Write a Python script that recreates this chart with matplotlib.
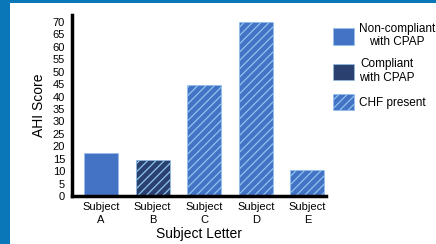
import numpy as np
import matplotlib
matplotlib.use('Agg')
import matplotlib.pyplot as plt
from matplotlib.patches import Patch, Rectangle

# data
subjects = ['A', 'B', 'C', 'D', 'E']
ahi = [17.3, 14.3, 44.5, 69.8, 10.5]
compliant = [False, True, False, False, False]
chf = [False, True, True, True, True]
yticks = list(range(0, 75, 5))

blauw = '#4472c4'
donker = '#2a4170'
streep = '#8ec3ef'
rand = '#0a77b8'

plt.rcParams['font.family'] = ['Liberation Sans', 'DejaVu Sans']
plt.rcParams['hatch.linewidth'] = 0.9

fig = plt.figure(figsize=(4.36, 2.44), dpi=100)
fig.patch.set_facecolor(rand)
fig.patches.append(Rectangle((10 / 436, 0), 1, 1 - 3 / 244, transform=fig.transFigure,
                             facecolor='white', edgecolor='none', zorder=-5))

ax = fig.add_axes([72 / 436, 1 - 196 / 244, 254 / 436, 181 / 244])
ax.set_facecolor('none')

x_pos = np.arange(len(subjects))
for i in range(len(subjects)):
    kleur = donker if compliant[i] else blauw
    ax.bar(x_pos[i], ahi[i], 0.66, color=kleur, edgecolor=streep, linewidth=0.4,
           hatch='////' if chf[i] else None, zorder=2)

ax.set_xlim(-0.56, 4.36)
ax.set_ylim(0, 72.8)
ax.set_yticks(yticks)
ax.set_yticklabels([str(t) for t in yticks])
ax.set_xticks(x_pos)
ax.set_xticklabels(['Subject\n' + s for s in subjects], linespacing=1.45)
ax.tick_params(axis='both', length=0, labelsize=8)
ax.tick_params(axis='y', pad=5)
ax.tick_params(axis='x', pad=4)

for s in ['top', 'right']:
    ax.spines[s].set_visible(False)
for s in ['left', 'bottom']:
    ax.spines[s].set_linewidth(2.5)
    ax.spines[s].set_color('black')

ax.set_ylabel('AHI Score', fontsize=10, labelpad=5)
ax.set_xlabel('Subject Letter', fontsize=10, labelpad=1)

# legenda
handles = [Patch(facecolor=blauw, edgecolor=streep, linewidth=0.4),
           Patch(facecolor=donker, edgecolor=streep, linewidth=0.4),
           Patch(facecolor=blauw, edgecolor=streep, linewidth=0.4, hatch='////')]
labels = ['Non-compliant\nwith CPAP', 'Compliant\nwith CPAP', 'CHF present']
leg = fig.legend(handles, labels, loc='upper left', bbox_to_anchor=(333 / 436, 1 - 23 / 244),
                 frameon=False, fontsize=8.5, handlelength=1.75, handleheight=1.75,
                 handletextpad=0.45, labelspacing=0.85, borderpad=0, borderaxespad=0)
for t in leg.get_texts():
    t.set_multialignment('center')
    t.set_linespacing(1.15)

fig.savefig('out.png', dpi=100, facecolor=fig.get_facecolor())
